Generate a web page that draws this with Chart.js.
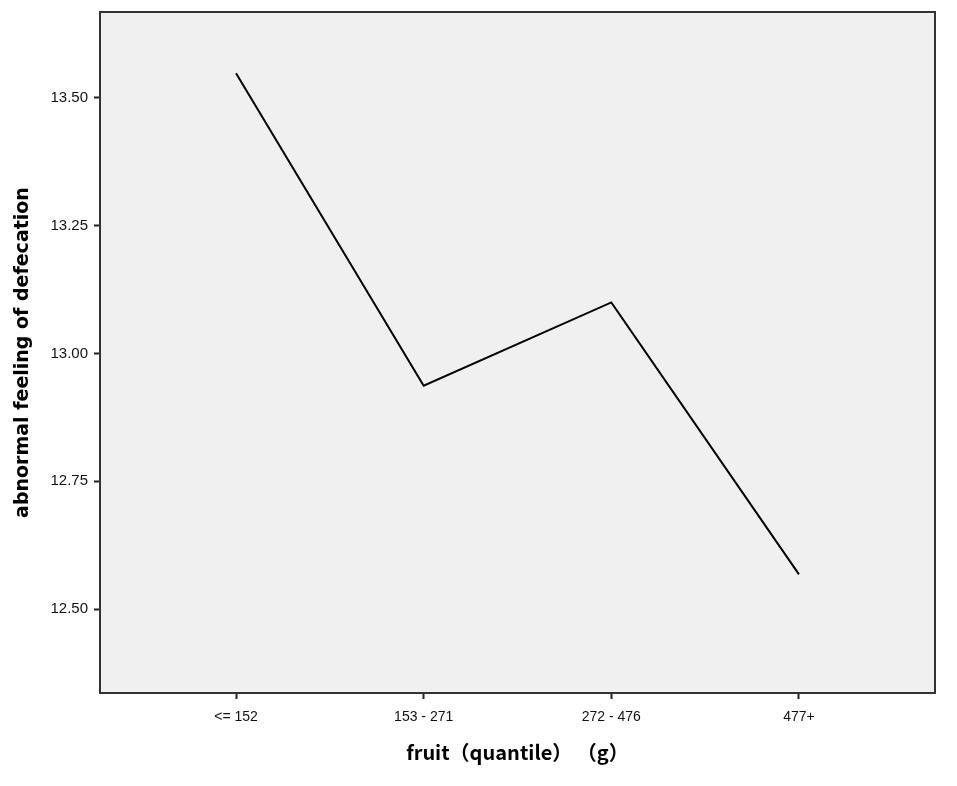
<!DOCTYPE html>
<html>
<head>
<meta charset="utf-8">
<script src="https://cdn.jsdelivr.net/npm/chart.js@4.4.1/dist/chart.umd.min.js"></script>
<style>
  html, body { margin: 0; padding: 0; background: #fff; }
  #wrap { width: 957px; height: 786px; }
</style>
</head>
<body>
<div id="wrap"><canvas id="lineChart"></canvas></div>
<script>
// values
var categories = ['<= 152', '153 - 271', '272 - 476', '477+'];
var means = [13.548, 12.937, 13.100, 12.568];
var yTicks = [12.50, 12.75, 13.00, 13.25, 13.50];

var plotBg = {
    id: 'plotBg',
    beforeDraw: function(chart) {
        var a = chart.chartArea, c = chart.ctx;
        c.save();
        c.fillStyle = '#f0f0f0';
        c.fillRect(a.left, a.top, a.right - a.left, a.bottom - a.top);
        c.restore();
    },
    afterDraw: function(chart) {
        var a = chart.chartArea, c = chart.ctx;
        c.save();
        c.strokeStyle = '#333';
        c.lineWidth = 2;
        c.strokeRect(a.left, a.top, a.right - a.left, a.bottom - a.top);
        c.restore();
    }
};

var ctx = document.getElementById('lineChart').getContext('2d');
var lineChart = new Chart(ctx, {
    type: 'line',
    data: {
        datasets: [{
            data: means.map(function(v, i) { return {x: i, y: v}; }),
            borderColor: '#000',
            borderWidth: 2,
            pointRadius: 0,
            fill: false,
            tension: 0
        }]
    },
    options: {
        responsive: true,
        maintainAspectRatio: false,
        animation: false,
        layout: { padding: { top: 12, right: 22, left: 0, bottom: 0 } },
        plugins: { legend: { display: false }, tooltip: { enabled: false } },
        scales: {
            x: {
                type: 'linear',
                min: -0.725,
                max: 3.725,
                afterBuildTicks: function(s) { s.ticks = categories.map(function(c, i) { return {value: i}; }); },
                afterFit: function(s) { s.height = 93; s.paddingLeft = 0; s.paddingRight = 0; },
                ticks: {
                    callback: function(v) { return categories[v]; },
                    color: '#111',
                    font: { family: 'Liberation Sans', size: 14 },
                    padding: 10,
                    maxRotation: 0
                },
                grid: { drawOnChartArea: false, drawTicks: true, tickLength: 6, tickColor: '#222', tickWidth: 2 },
                border: { display: true, color: '#333', width: 2 },
                title: {
                    display: true,
                    text: 'fruit（quantile） （g）',
                    color: '#000',
                    font: { family: "'Noto Sans CJK SC', 'DejaVu Sans'", size: 20, weight: 'bold' },
                    padding: { top: 0, bottom: 22 }
                }
            },
            y: {
                min: 12.336,
                max: 13.668,
                afterBuildTicks: function(s) { s.ticks = yTicks.map(function(v) { return {value: v}; }); },
                afterFit: function(s) { s.width = 100; s.paddingTop = 0; s.paddingBottom = 0; },
                ticks: {
                    callback: function(v) { return v.toFixed(2); },
                    color: '#111',
                    font: { family: 'Liberation Sans', size: 15 },
                    padding: 6
                },
                grid: { drawOnChartArea: false, drawTicks: true, tickLength: 6, tickColor: '#222', tickWidth: 2 },
                border: { display: true, color: '#333', width: 2 },
                title: {
                    display: true,
                    text: 'abnormal feeling of defecation',
                    color: '#000',
                    font: { family: 'DejaVu Sans', size: 19, weight: 'bold' },
                    padding: { top: 12, bottom: 4 }
                }
            }
        }
    },
    plugins: [plotBg]
});
</script>
</body>
</html>
